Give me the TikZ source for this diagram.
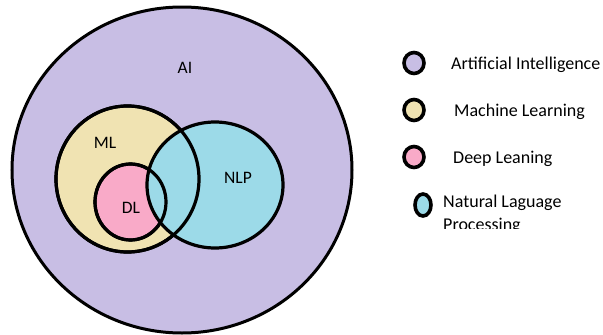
\documentclass[tikz,border=0pt]{standalone}
\usepackage{fontspec}
\setmainfont{Carlito}
\usetikzlibrary{shapes.geometric}
\definecolor{aicol}{RGB}{200,190,228}
\definecolor{mlcol}{RGB}{240,227,178}
\definecolor{dlcol}{RGB}{249,170,200}
\definecolor{nlpcol}{RGB}{156,218,232}
\begin{document}
\begin{tikzpicture}[x=1pt,y=-1pt,
  region/.style={ellipse, inner sep=0pt, line width=3.2pt},
  outline/.style={ellipse, inner sep=0pt, line width=3.2pt, draw=black},
  tag/.style={font=\fontsize{17.5}{20}\selectfont, inner sep=0pt},
  key/.style={ellipse, inner sep=0pt, line width=3.6pt, draw=black},
  keytext/.style={font=\fontsize{18}{24}\selectfont, anchor=base west, inner sep=0pt}]
\useasboundingbox[fill=white] (0,0) rectangle (603,335);

% nested sets
\node[region, draw=black, fill=aicol, line width=3pt, minimum width=340pt, minimum height=326pt] (ai) at (182,170) {};
\node[region, draw=black, fill=mlcol, minimum width=143pt, minimum height=146pt] (ml) at (127.5,179) {};
\node[region, draw=black, fill=dlcol, minimum width=71pt, minimum height=76pt] (dl) at (130.5,202) {};
\node[region, draw=black, fill=nlpcol, minimum width=136pt, minimum height=126pt] (nlp) at (215,185) {};
% ML and DL borders stay visible across the NLP set
\node[outline, minimum width=143pt, minimum height=146pt] (mlb) at (ml.center) {};
\node[outline, minimum width=71pt, minimum height=76pt] (dlb) at (dl.center) {};

\node[tag] (ailab) at (185,68) {AI};
\node[tag] (mllab) at (105,143) {ML};
\node[tag] (dllab) at (131,208) {DL};
\node[tag] (nlplab) at (238,178) {NLP};

% legend
\node[key, fill=aicol, minimum width=20pt, minimum height=21pt] (k1) at (414,63) {};
\node[key, fill=mlcol, minimum width=20pt, minimum height=21pt] (k2) at (414,110) {};
\node[key, fill=dlcol, minimum width=20pt, minimum height=21pt] (k3) at (414,157) {};
\node[key, fill=nlpcol, minimum width=16pt, minimum height=22pt] (k4) at (423,205) {};

\node[keytext] (t1) at (451,69) {Artificial Intelligence};
\node[keytext] (t2) at (454,116) {Machine Learning};
\node[keytext] (t3) at (453,163) {Deep Leaning};
\node[keytext] (t4) at (443,207) {Natural Laguage};
\begin{scope}
\clip (430,212) rectangle (603,228);
\node[keytext] (t5) at (443,230) {Processing};
\end{scope}
\end{tikzpicture}
\end{document}
